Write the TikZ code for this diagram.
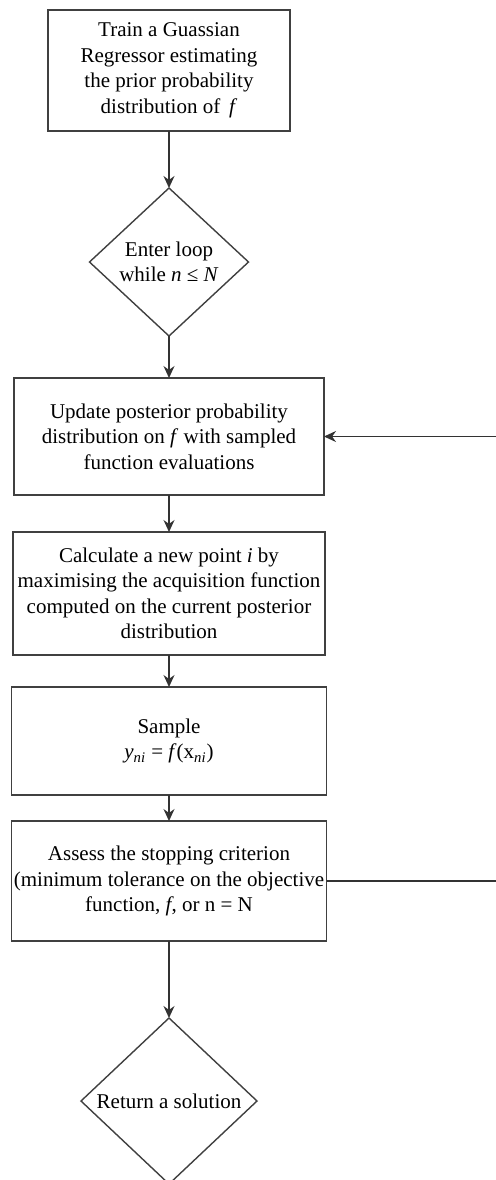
\documentclass[tikz,border=0pt]{standalone}
\usepackage{fontspec}
\setmainfont{Liberation Serif}
\usepackage{tikz}
\usetikzlibrary{shapes.geometric, arrows.meta, positioning}
\tikzstyle{caja} = [rectangle, minimum width=155pt, minimum height=58pt, align=center, draw=black!75, line width=0.7pt, inner sep=1pt, outer sep=0pt, font=\fontsize{10.5}{12.75}\selectfont]
\tikzstyle{rombo} = [diamond, align=center, draw=black!75, line width=0.7pt, inner sep=0pt, outer sep=0pt, font=\fontsize{10.5}{12.75}\selectfont]
\tikzstyle{arrow} = [line width=0.7pt, draw=black!80, -{Stealth[length=6pt,width=5.5pt]}]

\begin{document}
\begin{tikzpicture}[x=0.5pt, y=-0.5pt]
        \useasboundingbox (0,0) rectangle (496,1180);
        \node (train) [caja, minimum width=121pt, minimum height=60.5pt] at (169,70.5) {Train a Guassian\\ Regressor estimating\\ the prior probability\\ distribution of \,\textit{f}};
        \node (loop) [rombo, minimum width=79.5pt, minimum height=74pt, below=28.5pt of train] {Enter loop\\ while \textit{n} ≤ \textit{N}};
        \node (update) [caja, minimum height=58.5pt, below=21pt of loop] {Update posterior probability\\ distribution on \textit{f} with sampled\\ function evaluations};
        \node (acquire) [caja, minimum width=156pt, minimum height=61.5pt, below=18.5pt of update] {Calculate a new point \textit{i} by\\ maximising the acquisition function\\ computed on the current posterior\\ distribution};
        \node (sample) [caja, minimum width=157.5pt, minimum height=54pt, below=16pt of acquire] {Sample\\ \textit{y}\textsubscript{\textit{ni}} = \textit{f}(x\textsubscript{\textit{ni}})};
        \node (assess) [caja, minimum width=157.5pt, minimum height=60pt, below=13pt of sample] {Assess the stopping criterion\\ (minimum tolerance on the objective\\ function, \textit{f}, or n = N};
        \node (solution) [rombo, minimum width=88pt, minimum height=83pt, below=38.5pt of assess] {Return a solution};

        \draw [arrow] (train) -- (loop);
        \draw [arrow] (loop) -- (update);
        \draw [arrow] (update) -- (acquire);
        \draw [arrow] (acquire) -- (sample);
        \draw [arrow] (sample) -- (assess);
        \draw [arrow] (assess) -- (solution);
        \draw [arrow] (assess.east) -- ++(90pt,0) |- (update.east);
    \end{tikzpicture}
\end{document}
